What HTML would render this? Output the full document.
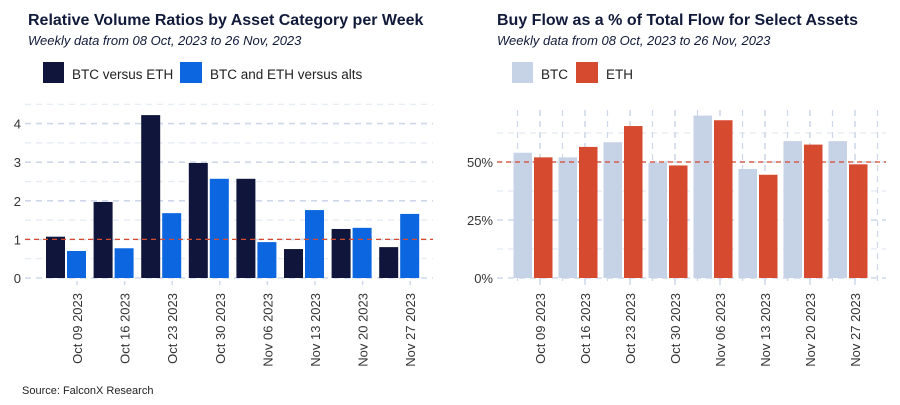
<!DOCTYPE html>
<html><head><meta charset="utf-8"><style>
body{margin:0;background:#fff;width:900px;height:400px;overflow:hidden;font-family:"Liberation Sans",Arial,sans-serif}
svg text{font-family:"Liberation Sans",Arial,sans-serif}
</style></head><body>
<svg id="c" width="900" height="400">
<text x="28" y="25" font-size="16" font-weight="bold" fill="#111a3a">Relative Volume Ratios by Asset Category per Week</text>
<text x="28" y="45" font-size="13" font-style="italic" fill="#111a3a">Weekly data from 08 Oct, 2023 to 26 Nov, 2023</text>
<rect x="43" y="62" width="21" height="21" fill="#10163b"/>
<text x="72" y="79" font-size="13.5" fill="#222">BTC versus ETH</text>
<rect x="180" y="62" width="22" height="21" fill="#0b66e0"/>
<text x="210" y="79" font-size="13.5" fill="#222">BTC and ETH versus alts</text>
<text x="497" y="25" font-size="16" font-weight="bold" fill="#111a3a">Buy Flow as a % of Total Flow for Select Assets</text>
<text x="497" y="45" font-size="13" font-style="italic" fill="#111a3a">Weekly data from 08 Oct, 2023 to 26 Nov, 2023</text>
<rect x="512" y="62" width="21" height="21" fill="#c6d2e5"/>
<text x="541" y="79" font-size="13.5" fill="#222">BTC</text>
<rect x="576" y="62" width="22" height="21" fill="#d64a30"/>
<text x="606" y="79" font-size="13.5" fill="#222">ETH</text>
<text x="22" y="394" font-size="11" fill="#222">Source: FalconX Research</text>
<g id="L"></g><g id="R"></g>
</svg>
<script>
const weeks=["Oct 09 2023","Oct 16 2023","Oct 23 2023","Oct 30 2023","Nov 06 2023","Nov 13 2023","Nov 20 2023","Nov 27 2023"];
const btcVsEth=[1.07,1.97,4.22,2.98,2.57,0.75,1.27,0.80];
const btcEthVsAlts=[0.70,0.77,1.68,2.57,0.93,1.76,1.30,1.66];
const leftTicks=[0,1,2,3,4];
const btcBuy=[54,52,58.5,49.7,70,47,59,59];
const ethBuy=[52,56.5,65.5,48.5,68,44.5,57.5,49];
const rightTicks=[0,25,50];
const NS="http://www.w3.org/2000/svg";
function mk(p,t,a){const e=document.createElementNS(NS,t);for(const k in a)e.setAttribute(k,a[k]);p.appendChild(e);return e;}
function panel(g,o){
  const y=v=>o.y0-(v-o.min)*o.ppu, x=i=>o.x0+i*o.step;
  for(let v=o.min;v<=o.gmax+1e-9;v+=o.minor){
    const major=Math.abs(v/o.major-Math.round(v/o.major))<1e-6;
    const l=mk(g,"line",{x1:o.left,x2:o.right,y1:y(v),y2:y(v),stroke:major?"#cfd8ea":"#e3e9f3","stroke-width":major?1.6:1.2,"stroke-dasharray":"6,5"});
    
    
  }
  if(o.vgrid){for(let i=-1;i<weeks.length;i++){for(const d of [0,o.step/2]){const xx=x(i)+d;if(xx<o.left||xx>o.right)continue;
    const l=mk(g,"line",{x1:xx,x2:xx,y1:o.top,y2:o.y0+8,stroke:"#cfd8ea","stroke-width":d?1.2:1.6,"stroke-dasharray":"6,5"});
    
    }}}
  o.ticks.forEach(v=>{const t=mk(g,"text",{x:o.left-4,y:y(v)+5,"text-anchor":"end","font-size":13,fill:"#333"});t.textContent=o.fmt(v);
    
    });
  weeks.forEach((w,i)=>{
    const cx=x(i)+o.off;
    const b1=mk(g,"rect",{x:cx-o.bw-1,y:y(o.a[i]),width:o.bw,height:o.y0-y(o.a[i]),fill:o.c1});
    
    
    const b2=mk(g,"rect",{x:cx+1,y:y(o.b[i]),width:o.bw,height:o.y0-y(o.b[i]),fill:o.c2});
    
    
    const tk=mk(g,"line",{x1:x(i),x2:x(i),y1:o.y0+3,y2:o.y0+7,stroke:"#cfd8ea","stroke-width":1.5});
    
    
    const t=mk(g,"text",{x:0,y:0,"text-anchor":"end","font-size":13,fill:"#333",transform:`translate(${x(i)+5},${o.y0+15}) rotate(-90)`});
    t.textContent=w;
    
    
  });
  const r=mk(g,"line",{x1:o.left,x2:o.right,y1:y(o.ref),y2:y(o.ref),stroke:"#d64a30","stroke-width":1.3,"stroke-dasharray":"5,4"});
  
  
}
panel(document.getElementById("L"),{x0:77,step:47.6,off:-11,bw:19,y0:278,min:0,ppu:38.6,gmax:4.5,minor:0.5,major:1,left:25,right:433,top:110,
  ticks:leftTicks,fmt:v=>String(v),a:btcVsEth,b:btcEthVsAlts,c1:"#10163b",c2:"#0b66e0",n1:"btc-vs-eth",n2:"alts",ref:1,vgrid:false});
panel(document.getElementById("R"),{x0:540,step:45,off:-7,bw:18.5,y0:278,min:0,ppu:2.32,gmax:62.5,minor:12.5,major:25,left:497,right:886,top:110,
  ticks:rightTicks,fmt:v=>v+"%",a:btcBuy,b:ethBuy,c1:"#c6d2e5",c2:"#d64a30",n1:"btc",n2:"eth",ref:50,vgrid:true});
</script>
</body></html>
